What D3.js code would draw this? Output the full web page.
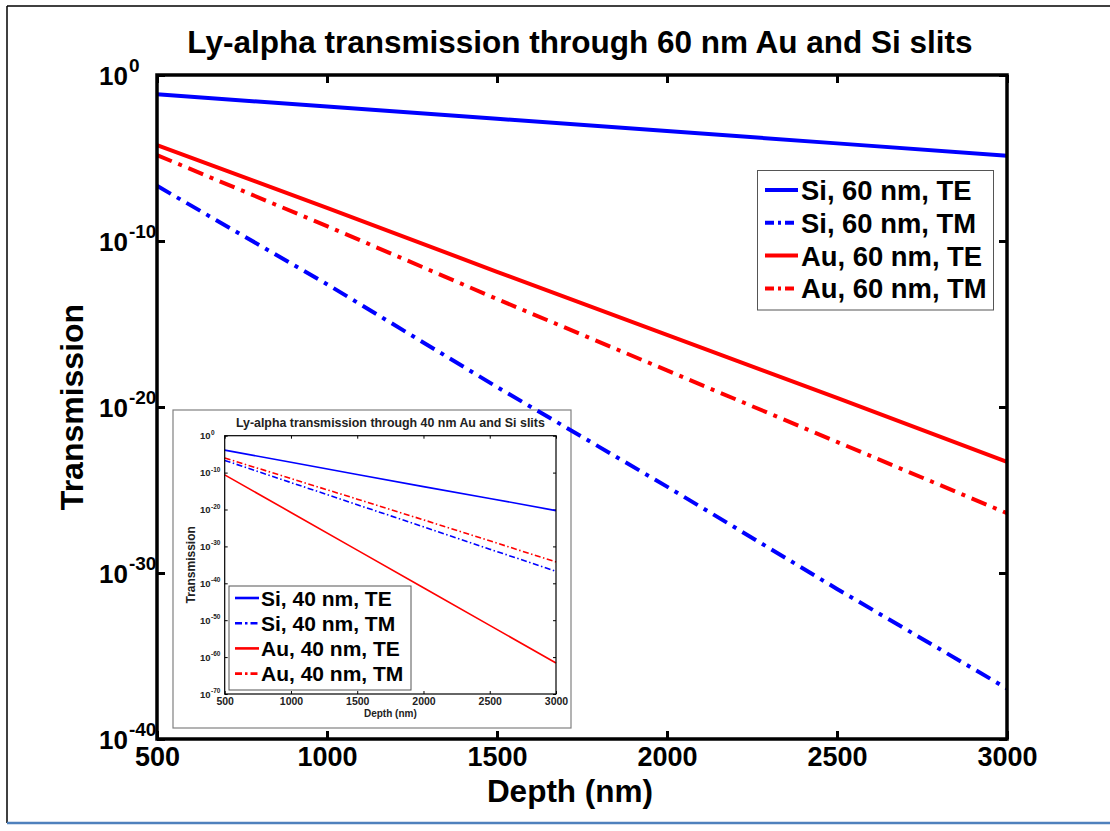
<!DOCTYPE html>
<html>
<head>
<meta charset="utf-8">
<script src="https://cdn.jsdelivr.net/npm/d3@7"></script>
<style>
  html, body { margin: 0; padding: 0; background: #fff; }
  svg text { font-family: "Liberation Sans", Arial, Helvetica, sans-serif; font-weight: bold; }
</style>
</head>
<body>
<svg id="chart" width="1110" height="831"></svg>
<script>
// Depth axis (nm), shared by both panels
const depth = [500, 1000, 1500, 2000, 2500, 3000];

// 60 nm slits (main panel), transmission
const siTE60 = [6.9e-2, 1.26e-2, 2.3e-3, 4.2e-4, 7.6e-5, 1.38e-5];
const siTM60 = [2.1e-7, 2.5e-13, 1.6e-19, 1.6e-25, 1.1e-31, 1.1e-37];
const auTE60 = [6.0e-5, 1.0e-8, 1.4e-12, 2.2e-16, 3.5e-20, 5.0e-24];
const auTM60 = [1.5e-5, 7.9e-10, 3.2e-14, 1.6e-18, 7.9e-23, 4.0e-27];

// 40 nm slits (inset panel), transmission
const siTE40 = [1.26e-4, 6.3e-8, 3.2e-11, 1.6e-14, 1.0e-17, 5.0e-21];
const siTM40 = [2.0e-7, 2.0e-13, 2.0e-19, 2.0e-25, 1.8e-31, 1.8e-37];
const auTE40 = [2.5e-11, 1.6e-21, 1.0e-31, 6.3e-42, 4.0e-52, 2.5e-62];
const auTM40 = [8.9e-7, 2.5e-12, 6.3e-18, 1.6e-23, 3.2e-29, 6.3e-35];

// Tick labels
const xTicks = [500, 1000, 1500, 2000, 2500, 3000];
const yExpMain = [0, -10, -20, -30, -40];
const yExpInset = [0, -10, -20, -30, -40, -50, -60, -70];

const labels60 = ["Si, 60 nm, TE", "Si, 60 nm, TM", "Au, 60 nm, TE", "Au, 60 nm, TM"];
const labels40 = ["Si, 40 nm, TE", "Si, 40 nm, TM", "Au, 40 nm, TE", "Au, 40 nm, TM"];
const colors = ["#0000ff", "#0000ff", "#ff0000", "#ff0000"];
const dashed = [false, true, false, true];

const svg = d3.select("#chart");
const fmt = d3.format("d");

// page frame
svg.append("line").attr("x1", 7).attr("x2", 1110).attr("y1", 6).attr("y2", 6)
  .attr("stroke", "#000").attr("stroke-width", 1.5);
svg.append("line").attr("x1", 7).attr("x2", 7).attr("y1", 6).attr("y2", 823)
  .attr("stroke", "#000").attr("stroke-width", 1.5);
svg.append("line").attr("x1", 7).attr("x2", 1110).attr("y1", 823).attr("y2", 823)
  .attr("stroke", "#4f81bd").attr("stroke-width", 2.5);

// ---------- main panel ----------
const L = 157, R = 1007, T = 75, B = 739;
const x = d3.scaleLinear().domain([500, 3000]).range([L, R]);
const y = d3.scaleLog().domain([1e-40, 1]).range([B, T]);

function series(vals) { return depth.map((d, i) => [d, vals[i]]); }
const main = [siTE60, siTM60, auTE60, auTM60].map(series);
const inset = [siTE40, siTM40, auTE40, auTM40].map(series);

svg.append("text").attr("x", 580).attr("y", 53).attr("text-anchor", "middle")
  .attr("font-size", 31.5).text("Ly-alpha transmission through 60 nm Au and Si slits");

// axes (inward ticks on all four sides)
const tickStyle = g => {
  g.select(".domain").remove();
  g.selectAll(".tick line").attr("stroke", "#000").attr("stroke-width", 3);
};
svg.append("g").attr("transform", `translate(0,${B})`)
  .call(d3.axisBottom(x).tickValues(xTicks).tickFormat(fmt).tickSizeInner(-8).tickSizeOuter(0).tickPadding(8))
  .call(tickStyle)
  .call(g => g.selectAll("text").attr("font-size", 27).attr("fill", "#000")
    .style("font-family", '"Liberation Sans", Arial, sans-serif').style("font-weight", "bold"));
svg.append("g").attr("transform", `translate(0,${T})`)
  .call(d3.axisTop(x).tickValues(xTicks).tickSizeInner(-8).tickSizeOuter(0).tickFormat(""))
  .call(tickStyle);
const yTickVals = yExpMain.map(e => Math.pow(10, e));
svg.append("g").attr("transform", `translate(${L},0)`)
  .call(d3.axisLeft(y).tickValues(yTickVals).tickSizeInner(-8).tickSizeOuter(0).tickFormat(""))
  .call(tickStyle);
svg.append("g").attr("transform", `translate(${R},0)`)
  .call(d3.axisRight(y).tickValues(yTickVals).tickSizeInner(-8).tickSizeOuter(0).tickFormat(""))
  .call(tickStyle);

// power-of-ten labels
yExpMain.forEach(e => {
  const t = svg.append("text").attr("x", 99).attr("y", y(Math.pow(10, e)) + 10).attr("fill", "#000");
  t.append("tspan").attr("font-size", 26).text("10");
  t.append("tspan").attr("font-size", 19).attr("dy", -13).attr("dx", 1).text(String(e));
});

svg.append("text").attr("x", (L + R) / 2 - 12).attr("y", 802).attr("text-anchor", "middle")
  .attr("font-size", 31.5).text("Depth (nm)");
svg.append("text").attr("transform", `translate(83,${(T + B) / 2}) rotate(-90)`)
  .attr("text-anchor", "middle").attr("font-size", 32).text("Transmission");

// ---------- inset panel (40 nm) ----------
const ig = svg.append("g");
ig.append("rect").attr("x", 173).attr("y", 410).attr("width", 398).attr("height", 318)
  .attr("fill", "#fff").attr("stroke", "#808080").attr("stroke-width", 1.2);
const iL = 224.7, iR = 556, iT = 435.7, iB = 694;
const ix = d3.scaleLinear().domain([500, 3000]).range([iL, iR]);
const iy = d3.scaleLog().domain([1e-70, 1]).range([iB, iT]);
const iTickStyle = g => {
  g.select(".domain").remove();
  g.selectAll(".tick line").attr("stroke", "#000").attr("stroke-width", 1);
};
ig.append("g").attr("transform", `translate(0,${iB})`)
  .call(d3.axisBottom(ix).tickValues(xTicks).tickFormat(fmt).tickSizeInner(-3).tickSizeOuter(0).tickPadding(4))
  .call(iTickStyle)
  .call(g => g.selectAll("text").attr("font-size", 10.5).attr("fill", "#222")
    .style("font-family", '"Liberation Sans", Arial, sans-serif').style("font-weight", "bold"));
ig.append("g").attr("transform", `translate(0,${iT})`)
  .call(d3.axisTop(ix).tickValues(xTicks).tickSizeInner(-3).tickSizeOuter(0).tickFormat(""))
  .call(iTickStyle);
const iyTickVals = yExpInset.map(e => Math.pow(10, e));
ig.append("g").attr("transform", `translate(${iL},0)`)
  .call(d3.axisLeft(iy).tickValues(iyTickVals).tickSizeInner(-3).tickSizeOuter(0).tickFormat(""))
  .call(iTickStyle);
ig.append("g").attr("transform", `translate(${iR},0)`)
  .call(d3.axisRight(iy).tickValues(iyTickVals).tickSizeInner(-3).tickSizeOuter(0).tickFormat(""))
  .call(iTickStyle);
yExpInset.forEach(e => {
  const t = ig.append("text").attr("x", 200).attr("y", iy(Math.pow(10, e)) + 3.5).attr("fill", "#222");
  t.append("tspan").attr("font-size", 9.5).text("10");
  t.append("tspan").attr("font-size", 6.5).attr("dy", -4.5).attr("dx", 0.5).text(String(e));
});

const iline = d3.line().x(d => ix(d[0])).y(d => iy(d[1]));
inset.forEach((s, i) => {
  ig.append("path").attr("d", iline(s)).attr("fill", "none")
    .attr("stroke", colors[i]).attr("stroke-width", 1.6)
    .attr("stroke-dasharray", dashed[i] ? "6,2.5,1.5,2.5" : null);
});
ig.append("rect").attr("x", iL).attr("y", iT).attr("width", iR - iL).attr("height", iB - iT)
  .attr("fill", "none").attr("stroke", "#000").attr("stroke-width", 1.2);

ig.append("text").attr("x", (iL + iR) / 2).attr("y", 426.5).attr("text-anchor", "middle")
  .attr("font-size", 12.4).attr("fill", "#222").text("Ly-alpha transmission through 40 nm Au and Si slits");
ig.append("text").attr("x", (iL + iR) / 2).attr("y", 717).attr("text-anchor", "middle")
  .attr("font-size", 10).attr("fill", "#222").text("Depth (nm)");
ig.append("text").attr("transform", `translate(195,${(iT + iB) / 2}) rotate(-90)`)
  .attr("text-anchor", "middle").attr("font-size", 12).attr("fill", "#222").text("Transmission");

// inset legend
const ilg = ig.append("g");
ilg.append("rect").attr("x", 229).attr("y", 586).attr("width", 182).attr("height", 104)
  .attr("fill", "#fff").attr("stroke", "#555").attr("stroke-width", 1);
labels40.forEach((lab, i) => {
  const cy = 598 + i * 25.2;
  ilg.append("line").attr("x1", 235).attr("x2", 259).attr("y1", cy).attr("y2", cy)
    .attr("stroke", colors[i]).attr("stroke-width", 2.6)
    .attr("stroke-dasharray", dashed[i] ? "7,3,2.5,3" : null);
  ilg.append("text").attr("x", 261).attr("y", cy + 7.5).attr("font-size", 21).attr("fill", "#000").text(lab);
});

// ---------- main curves ----------
const line = d3.line().x(d => x(d[0])).y(d => y(d[1]));
main.forEach((s, i) => {
  svg.append("path").attr("d", line(s)).attr("fill", "none")
    .attr("stroke", colors[i]).attr("stroke-width", 4)
    .attr("stroke-dasharray", dashed[i] ? "16,7,4,7" : null);
});

// main frame
svg.append("rect").attr("x", L).attr("y", T).attr("width", R - L).attr("height", B - T)
  .attr("fill", "none").attr("stroke", "#000").attr("stroke-width", 3.5);

// main legend
const lg = svg.append("g");
lg.append("rect").attr("x", 757.5).attr("y", 170.5).attr("width", 236).attr("height", 139.5)
  .attr("fill", "#fff").attr("stroke", "#555").attr("stroke-width", 1);
labels60.forEach((lab, i) => {
  const cy = 190 + i * 32.8;
  lg.append("line").attr("x1", 765).attr("x2", 798).attr("y1", cy).attr("y2", cy)
    .attr("stroke", colors[i]).attr("stroke-width", 4)
    .attr("stroke-dasharray", dashed[i] ? "9,4,3,4" : null);
  lg.append("text").attr("x", 801).attr("y", cy + 10).attr("font-size", 27.4).attr("fill", "#000").text(lab);
});
</script>
</body>
</html>
